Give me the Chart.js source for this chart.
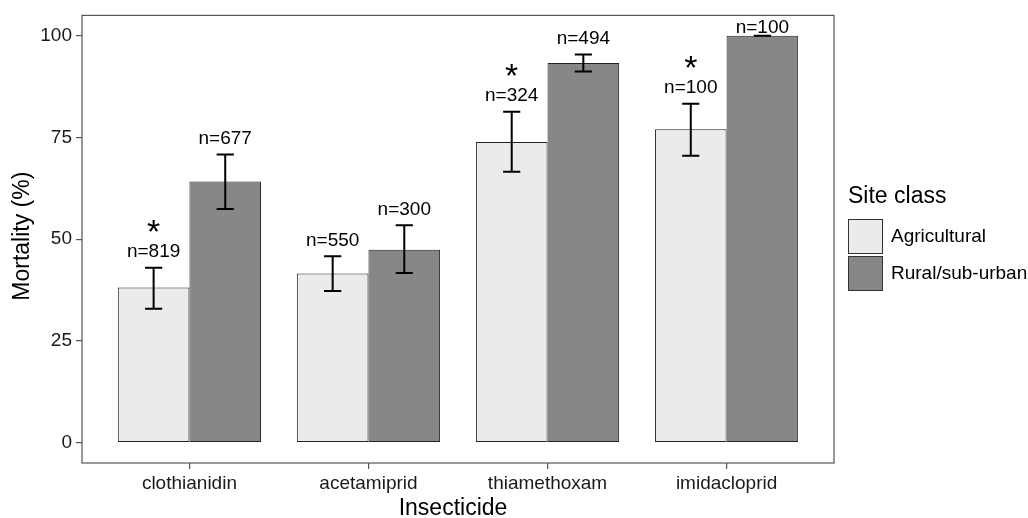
<!DOCTYPE html>
<html>
<head>
<meta charset="utf-8">
<script src="https://cdn.jsdelivr.net/npm/chart.js@4"></script>
<style>
  html, body { margin: 0; padding: 0; background: #fff; }
  canvas { display: block; }
</style>
</head>
<body>
<canvas id="chart" width="1028" height="518"></canvas>
<script>
// data
const categories = ["clothianidin", "acetamiprid", "thiamethoxam", "imidacloprid"];
const seriesNames = ["Agricultural", "Rural/sub-urban"];

const agri = [38.1, 41.6, 73.9, 77.0];
const agriLow = [32.9, 37.3, 66.6, 70.5];
const agriHigh = [43.0, 45.8, 81.3, 83.3];
const agriN = [819, 550, 324, 100];
const agriSig = [true, false, true, true];

const rural = [64.2, 47.4, 93.3, 100];
const ruralLow = [57.4, 41.7, 91.2, 100];
const ruralHigh = [70.8, 53.4, 95.4, 100];
const ruralN = [677, 300, 494, 100];

const yTicks = [0, 25, 50, 75, 100];

const FONT = "'Liberation Sans', Arial, Helvetica, sans-serif";

/* Error bars, n labels, asterisks, frame, titles and legend */
const extras = {
    id: "extras",
    afterDatasetsDraw(chart) {
        let ctx = chart.ctx;
        let area = chart.chartArea;
        let y = chart.scales.y;
        let lows = [agriLow, ruralLow];
        let highs = [agriHigh, ruralHigh];
        let ns = [agriN, ruralN];

        ctx.save();
        chart.data.datasets.forEach((ds, di) => {
            let meta = chart.getDatasetMeta(di);
            meta.data.forEach((bar, i) => {
                let yHi = y.getPixelForValue(highs[di][i]);
                let yLo = y.getPixelForValue(lows[di][i]);
                let half = bar.width * 0.12;

                // error bar
                ctx.strokeStyle = "#000";
                ctx.lineWidth = 2;
                ctx.beginPath();
                ctx.moveTo(bar.x, yHi);
                ctx.lineTo(bar.x, yLo);
                ctx.moveTo(bar.x - half, yHi);
                ctx.lineTo(bar.x + half, yHi);
                ctx.moveTo(bar.x - half, yLo);
                ctx.lineTo(bar.x + half, yLo);
                ctx.stroke();

                // n label
                let ly = Math.max(yHi - 16, area.top + 12);
                ctx.fillStyle = "#000";
                ctx.font = "19px " + FONT;
                ctx.textAlign = "center";
                ctx.textBaseline = "middle";
                ctx.fillText("n=" + ns[di][i], bar.x, ly);

                // significance mark
                if (di === 0 && agriSig[i]) {
                    ctx.font = "34px " + FONT;
                    ctx.textBaseline = "alphabetic";
                    ctx.fillText("*", bar.x, ly - 28.5 + 20);
                }
            });
        });
        ctx.restore();
    },
    afterDraw(chart) {
        let ctx = chart.ctx;
        let area = chart.chartArea;
        ctx.save();

        // panel frame
        ctx.strokeStyle = "#555";
        ctx.lineWidth = 1.2;
        ctx.strokeRect(area.left, area.top, area.right - area.left, area.bottom - area.top);

        // axis titles
        ctx.fillStyle = "#000";
        ctx.font = "23px " + FONT;
        ctx.textAlign = "center";
        ctx.textBaseline = "alphabetic";
        ctx.fillText("Insecticide", (area.left + area.right) / 2 - 5, 515);

        ctx.save();
        ctx.translate(29, (area.top + area.bottom) / 2 - 3);
        ctx.rotate(-Math.PI / 2);
        ctx.fillText("Mortality (%)", 0, 0);
        ctx.restore();

        // legend
        ctx.textAlign = "left";
        ctx.font = "23px " + FONT;
        ctx.fillText("Site class", 848, 203);
        ctx.font = "19px " + FONT;
        ctx.textBaseline = "middle";
        chart.data.datasets.forEach((ds, di) => {
            let top = 219 + di * 37;
            ctx.fillStyle = ds.backgroundColor;
            ctx.fillRect(848, top, 35, 35);
            ctx.strokeStyle = "#333";
            ctx.lineWidth = 1;
            ctx.strokeRect(848.5, top + 0.5, 34, 34);
            ctx.fillStyle = "#000";
            ctx.fillText(ds.label, 891, top + 18);
        });
        ctx.restore();
    }
};

new Chart(document.getElementById("chart"), {
    type: "bar",
    data: {
        datasets: [
            {
                label: seriesNames[0],
                data: agri.map((v, i) => ({ x: i + 1, y: v })),
                backgroundColor: "#EBEBEB",
                borderColor: "#222",
                borderWidth: 1,
                borderSkipped: false
            },
            {
                label: seriesNames[1],
                data: rural.map((v, i) => ({ x: i + 1, y: v })),
                backgroundColor: "#878787",
                borderColor: "#222",
                borderWidth: 1,
                borderSkipped: false
            }
        ]
    },
    options: {
        responsive: false,
        animation: false,
        devicePixelRatio: 1,
        categoryPercentage: 0.8,
        barPercentage: 1.0,
        layout: { padding: { top: 13, right: 194, left: 0, bottom: 0 } },
        plugins: {
            legend: { display: false },
            tooltip: { enabled: false }
        },
        scales: {
            x: {
                type: "linear",
                min: 0.4,
                max: 4.6,
                offset: false,
                afterBuildTicks: axis => { axis.ticks = categories.map((c, i) => ({ value: i + 1 })); },
                afterFit: axis => { axis.height = 55; },
                ticks: {
                    callback: v => categories[v - 1],
                    color: "#1a1a1a",
                    font: { family: FONT, size: 19 },
                    padding: 3,
                    maxRotation: 0
                },
                grid: { offset: false, drawOnChartArea: false, drawTicks: true, tickLength: 6, color: "#555", lineWidth: 1.2 },
                border: { display: false }
            },
            y: {
                min: -5,
                max: 105,
                afterBuildTicks: axis => { axis.ticks = yTicks.map(v => ({ value: v })); },
                afterFit: axis => { axis.width = 82; },
                ticks: {
                    color: "#1a1a1a",
                    font: { family: FONT, size: 19 },
                    padding: 4
                },
                grid: { drawOnChartArea: false, drawTicks: true, tickLength: 6, color: "#555", lineWidth: 1.2 },
                border: { display: false }
            }
        }
    },
    plugins: [extras]
});
</script>
</body>
</html>
